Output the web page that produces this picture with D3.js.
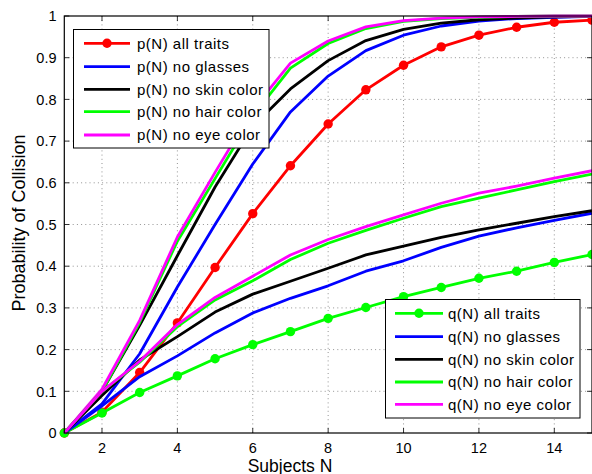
<!DOCTYPE html>
<html lang="en">
<head>
  <meta charset="UTF-8">
  <title>Probability of Collision</title>
  <script src="https://d3js.org/d3.v7.min.js"></script>
  <style>
    body {
      margin: 0;
      background: #fff;
      font-family: 'Liberation Sans', Arial, sans-serif;
    }
    svg { display: block; }
    .tick-label { font-size: 14.5px; fill: #000; }
    .axis-title { font-size: 17.5px; fill: #000; }
    .legend-text { font-size: 15px; letter-spacing: 0.5px; fill: #000; }
  </style>
</head>
<body>
  <svg width="592" height="474"></svg>
  <script>
    const subjects = [1, 2, 3, 4, 5, 6, 7, 8, 9, 10, 11, 12, 13, 14, 15];

    // p(N) curves
    const pAllTraits  = [0, 0.050, 0.145, 0.264, 0.397, 0.526, 0.641, 0.741, 0.823, 0.882, 0.926, 0.954, 0.973, 0.985, 0.990];
    const pNoGlasses  = [0, 0.070, 0.190, 0.350, 0.500, 0.645, 0.770, 0.856, 0.917, 0.954, 0.976, 0.988, 0.994, 0.997, 0.999];
    const pNoSkin     = [0, 0.100, 0.258, 0.425, 0.590, 0.735, 0.825, 0.893, 0.941, 0.968, 0.983, 0.991, 0.995, 0.998, 0.999];
    const pNoHair     = [0, 0.100, 0.265, 0.460, 0.610, 0.760, 0.875, 0.934, 0.970, 0.987, 0.994, 0.997, 0.999, 1.000, 1.000];
    const pNoEye      = [0, 0.105, 0.270, 0.470, 0.625, 0.775, 0.887, 0.940, 0.974, 0.989, 0.995, 0.998, 0.999, 1.000, 1.000];

    // q(N) curves
    const qAllTraits  = [0, 0.048, 0.097, 0.137, 0.178, 0.212, 0.243, 0.275, 0.301, 0.327, 0.349, 0.371, 0.388, 0.409, 0.428];
    const qNoGlasses  = [0, 0.065, 0.135, 0.185, 0.240, 0.288, 0.323, 0.353, 0.388, 0.413, 0.445, 0.472, 0.492, 0.510, 0.527];
    const qNoSkin     = [0, 0.090, 0.175, 0.231, 0.290, 0.333, 0.364, 0.395, 0.427, 0.448, 0.469, 0.487, 0.503, 0.519, 0.533];
    const qNoHair     = [0, 0.100, 0.170, 0.255, 0.319, 0.365, 0.416, 0.455, 0.486, 0.515, 0.543, 0.563, 0.583, 0.603, 0.621];
    const qNoEye      = [0, 0.100, 0.172, 0.260, 0.325, 0.376, 0.427, 0.464, 0.495, 0.523, 0.551, 0.575, 0.592, 0.611, 0.629];

    const xTicks = [2, 4, 6, 8, 10, 12, 14];
    const yTicks = [0, 0.1, 0.2, 0.3, 0.4, 0.5, 0.6, 0.7, 0.8, 0.9, 1];

    const pSeries = [
      { name: "p(N) all traits",     values: pAllTraits, color: "#ff0000", marker: true },
      { name: "p(N) no glasses",     values: pNoGlasses, color: "#0000ff" },
      { name: "p(N) no skin color",  values: pNoSkin,    color: "#000000" },
      { name: "p(N) no hair color",  values: pNoHair,    color: "#00ff00" },
      { name: "p(N) no eye color",   values: pNoEye,     color: "#ff00ff" }
    ];
    const qSeries = [
      { name: "q(N) all traits",     values: qAllTraits, color: "#00ff00", marker: true },
      { name: "q(N) no glasses",     values: qNoGlasses, color: "#0000ff" },
      { name: "q(N) no skin color",  values: qNoSkin,    color: "#000000" },
      { name: "q(N) no hair color",  values: qNoHair,    color: "#00ff00" },
      { name: "q(N) no eye color",   values: qNoEye,     color: "#ff00ff" }
    ];

    const plotL = 64.3, plotR = 592, plotT = 16, plotB = 433;
    const svg = d3.select("svg");

    const x = d3.scaleLinear().domain([1, 15]).range([plotL, plotR]);
    const y = d3.scaleLinear().domain([0, 1]).range([plotB, plotT]);

    // grid
    const grid = svg.append("g")
      .attr("stroke", "#777")
      .attr("stroke-width", 0.8)
      .attr("stroke-dasharray", "1 3.2");
    grid.selectAll(".gx").data(xTicks).enter().append("line")
      .attr("x1", d => x(d)).attr("x2", d => x(d))
      .attr("y1", plotT).attr("y2", plotB);
    grid.selectAll(".gy").data(yTicks.slice(1, -1)).enter().append("line")
      .attr("y1", d => y(d)).attr("y2", d => y(d))
      .attr("x1", plotL).attr("x2", plotR);

    // inner ticks on all four sides
    const tickLen = 5;
    const ticks = svg.append("g").attr("stroke", "#000").attr("stroke-width", 0.8);
    xTicks.forEach(t => {
      ticks.append("line").attr("x1", x(t)).attr("x2", x(t)).attr("y1", plotB).attr("y2", plotB - tickLen);
      ticks.append("line").attr("x1", x(t)).attr("x2", x(t)).attr("y1", plotT).attr("y2", plotT + tickLen);
    });
    yTicks.forEach(t => {
      ticks.append("line").attr("y1", y(t)).attr("y2", y(t)).attr("x1", plotL).attr("x2", plotL + tickLen);
      ticks.append("line").attr("y1", y(t)).attr("y2", y(t)).attr("x1", plotR - tickLen).attr("x2", plotR);
    });

    // tick labels
    svg.selectAll(".xl").data(xTicks).enter().append("text")
      .attr("class", "tick-label")
      .attr("x", d => x(d)).attr("y", 453)
      .attr("text-anchor", "middle")
      .text(d => d);
    svg.selectAll(".yl").data(yTicks).enter().append("text")
      .attr("class", "tick-label")
      .attr("x", 56.5).attr("y", d => y(d))
      .attr("dy", "0.36em")
      .attr("text-anchor", "end")
      .text(d => d === 0 || d === 1 ? d : d.toFixed(1));

    // lines
    const line = d3.line()
      .x((d, i) => x(subjects[i]))
      .y(d => y(d));

    function drawSeries(list) {
      list.forEach(s => {
        svg.append("path")
          .attr("d", line(s.values))
          .attr("fill", "none")
          .attr("stroke", s.color)
          .attr("stroke-width", 2.8)
          .attr("stroke-linejoin", "round");
        if (s.marker) {
          svg.append("g").selectAll("circle")
            .data(s.values).enter().append("circle")
            .attr("cx", (d, i) => x(subjects[i]))
            .attr("cy", d => y(d))
            .attr("r", 4.7)
            .attr("fill", s.color);
        }
      });
    }
    drawSeries(pSeries);
    drawSeries(qSeries);

    // axes box
    svg.append("rect")
      .attr("x", plotL).attr("y", plotT)
      .attr("width", plotR - plotL).attr("height", plotB - plotT)
      .attr("fill", "none").attr("stroke", "#000").attr("stroke-width", 1.2);

    // axis titles
    svg.append("text")
      .attr("class", "axis-title")
      .attr("x", 290).attr("y", 471.5)
      .attr("text-anchor", "middle")
      .text("Subjects N");
    svg.append("text")
      .attr("class", "axis-title")
      .attr("transform", "translate(25,223) rotate(-90)")
      .attr("text-anchor", "middle")
      .style("font-size", "18px")
      .text("Probability of Collision");

    // legends
    function drawLegend(list, box, rows, lineX0, lineX1, textX) {
      const g = svg.append("g");
      g.append("rect")
        .attr("x", box.x).attr("y", box.y)
        .attr("width", box.w).attr("height", box.h)
        .attr("fill", "#fff").attr("stroke", "#000").attr("stroke-width", 1);
      list.forEach((s, i) => {
        g.append("line")
          .attr("x1", lineX0).attr("x2", lineX1)
          .attr("y1", rows[i]).attr("y2", rows[i])
          .attr("stroke", s.color).attr("stroke-width", 2.8);
        if (s.marker) {
          g.append("circle")
            .attr("cx", (lineX0 + lineX1) / 2).attr("cy", rows[i])
            .attr("r", 4.7).attr("fill", s.color);
        }
        g.append("text")
          .attr("class", "legend-text")
          .attr("x", textX).attr("y", rows[i])
          .attr("dy", "0.36em")
          .text(s.name);
      });
    }
    drawLegend(pSeries, { x: 73.5, y: 29.5, w: 195.5, h: 118.5 },
      [43.3, 66.7, 89.3, 111.7, 135], 84, 130, 137);
    drawLegend(qSeries, { x: 385.5, y: 299.5, w: 194.5, h: 118.5 },
      [313.3, 336.7, 359.3, 382, 404.3], 395, 443, 448);
  </script>
</body>
</html>
